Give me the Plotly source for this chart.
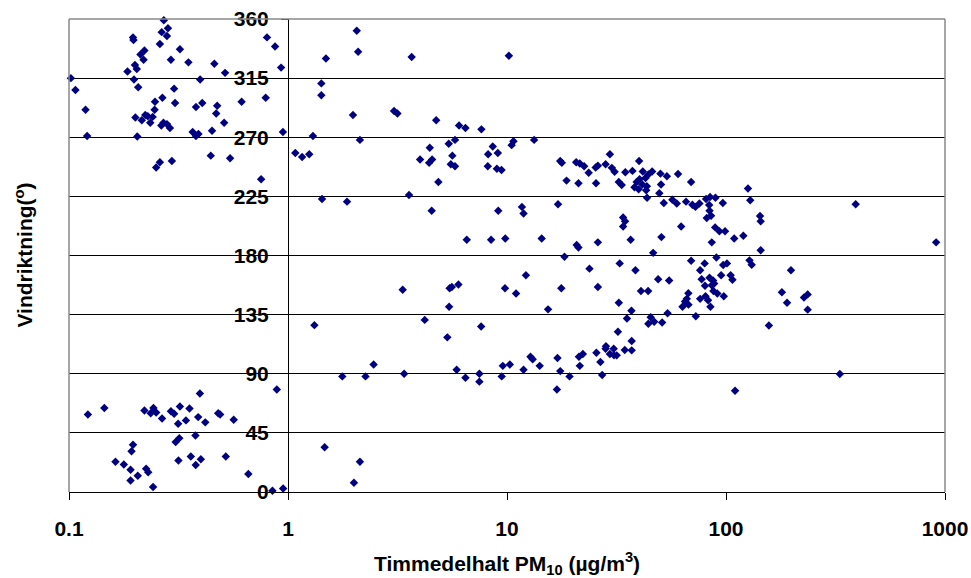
import plotly.graph_objects as go

# PM10 hourly concentration (µg/m3) and wind direction (degrees)
pm10 = [
    0.102, 0.107, 0.119, 0.121, 0.196, 0.197, 0.185, 0.200, 0.204, 0.212, 0.221, 0.219, 0.198, 0.207,
    0.205, 0.201, 0.215, 0.223, 0.229, 0.235, 0.241, 0.246, 0.247, 0.267, 0.260, 0.265, 0.271, 0.283,
    0.280, 0.292, 0.321, 0.302, 0.305, 0.264, 0.270, 0.280, 0.289, 0.250, 0.260, 0.295, 0.351, 0.397,
    0.380, 0.406, 0.367, 0.380, 0.390, 0.444, 0.450, 0.470, 0.475, 0.511, 0.461, 0.516, 0.544, 0.614,
    0.754, 0.791, 0.802, 0.873, 0.930, 0.948, 1.08, 1.16, 1.25, 1.30, 1.42, 1.42, 1.49, 1.43,
    0.122, 0.145, 0.221, 0.236, 0.243, 0.250, 0.266, 0.292, 0.302, 0.321, 0.355, 0.315, 0.342, 0.389,
    0.419, 0.396, 0.480, 0.490, 0.565, 0.378, 0.319, 0.307, 0.196, 0.193, 0.163, 0.178, 0.191, 0.206,
    0.191, 0.225, 0.230, 0.242, 0.316, 0.360, 0.379, 0.400, 0.520, 0.659, 0.849, 0.950, 0.889, 1.32,
    1.47, 2.00, 2.13,
    2.06, 2.09, 3.67, 10.2, 1.98, 3.05, 3.16, 4.75, 2.13, 1.86, 3.57, 4.53, 4.01, 4.44, 4.41, 4.55,
    4.86, 5.42, 5.63, 5.79, 5.54, 5.79, 6.04, 6.46, 7.64, 8.61, 8.20, 9.08, 8.17, 8.99, 9.44, 10.7,
    10.5, 13.3, 9.12, 11.7, 11.9, 17.1, 6.55, 8.46, 9.82, 14.4, 20.8, 21.2, 26.0, 33.9, 34.6, 33.9,
    36.7, 17.5, 17.8, 18.7, 20.7, 21.5, 22.5, 21.2, 23.6, 25.4, 26.0, 25.5, 28.2, 30.1, 31.0, 29.5,
    34.7, 37.4, 32.4, 33.4, 38.2, 39.1, 40.3, 41.5, 39.9, 43.2, 43.5, 40.1,
    41.7, 42.9, 44.2, 46.0, 43.6, 49.6, 50.5, 50.2, 53.7, 60.4, 69.3, 52.0, 56.9, 59.6, 65.7, 70.2,
    72.5, 75.6, 81.1, 84.6, 89.5, 83.8, 84.1, 81.7, 85.5, 96.7, 126, 129, 143, 144, 62.4, 50.7,
    89.2, 93.3, 99.0, 109, 120, 86.1, 391, 911,
    46.5, 38.6, 69.3, 79.9, 90.4, 76.2, 97.1, 101, 128, 131, 144, 198, 49.0, 55.0, 77.4, 80.2,
    84.1, 87.3, 88.3, 86.1, 95.0, 105, 107, 40.9, 44.1, 67.3, 66.2, 65.0, 63.3, 67.4, 76.2, 80.6,
    82.8, 87.6, 91.3, 97.7, 84.9, 72.8, 54.1, 45.3, 44.2, 47.0, 51.1, 37.0, 37.1, 37.1, 180, 190,
    227, 236, 236, 157, 331, 110,
    1.77, 2.26, 2.46, 3.34, 3.39, 4.21, 5.34, 5.44, 5.47, 5.60, 6.00, 5.89, 6.46, 7.48, 7.48, 7.62,
    9.46, 9.57, 10.3, 9.79, 11.0, 12.2, 11.9, 12.8, 13.1, 14.1, 15.4, 16.9, 17.0, 17.5, 17.7, 18.3,
    19.3, 21.5, 21.3, 22.2, 23.8, 25.6, 26.0, 26.7, 27.2, 28.2, 28.3, 29.5, 30.7, 30.8, 31.7, 32.1,
    32.4, 32.7, 34.5, 35.3,
]

wind_dir = [
    315, 306, 291, 271, 346, 344, 320, 325, 322, 333, 336, 329, 314, 308,
    270.5, 285, 283, 287, 286, 281, 285.5, 291, 297, 300, 341, 350, 359, 353,
    347, 329, 337, 307, 296, 279, 281, 280, 277, 247, 251, 252, 327, 314,
    293, 296, 274, 271, 272.5, 256, 275, 288, 294, 281, 326, 319, 254, 297,
    238, 300, 346, 339, 323, 274, 258, 255, 257, 271, 311, 302, 330, 223,
    59, 64, 62, 60, 64, 60.5, 56, 61.5, 59.5, 65, 63.5, 52, 54.5, 57,
    53, 75, 60, 59, 55, 43, 41, 38, 36, 31, 23, 21, 17, 12.4,
    8.8, 17.7, 15, 3.8, 24, 27, 20.6, 25, 27, 13.7, 1, 2.7, 78, 127,
    34, 7, 23,
    351, 335, 331, 332, 287, 290, 288, 283, 268, 221, 226, 214, 253, 262, 250.5, 253,
    236, 265, 256, 268, 249.5, 248, 279, 277, 276, 263, 257, 258, 248, 246, 245, 267,
    264, 268, 214, 217, 212, 219, 192, 192, 193, 193, 188, 186, 190, 209, 206, 202,
    192, 252, 250.5, 237, 251, 250, 248, 235, 243, 247, 248.4, 235, 249.4, 246.7, 243.8, 257,
    243.3, 244.4, 236, 233.7, 232, 236, 238, 234, 230.5, 229.6, 232.7, 252,
    244, 239, 241.6, 244, 224, 227.3, 234, 242.3, 240.3, 242, 236, 220, 222.5, 219.5, 221, 218.7,
    217, 219.5, 223, 224.6, 224, 218.5, 214, 208.6, 210.3, 220, 231, 222, 210, 206, 202, 194,
    201.4, 198.4, 198.4, 193, 195, 190, 219, 190,
    182, 168.7, 176, 174, 178.4, 168.7, 172.8, 174, 176.3, 173, 184, 168.7, 162, 161, 162, 157,
    163, 161, 158.6, 157.4, 165, 165, 161.6, 153, 153, 151.3, 147, 145, 141, 142.6, 147, 149,
    146, 153, 151, 149, 141, 133.7, 136, 133, 128, 129.6, 129, 138, 115, 107.8, 152, 144,
    148, 150.4, 138.8, 126.8, 89.8, 77,
    88, 88, 97, 154, 90, 131, 117.7, 141, 155, 156, 158, 93, 87, 90, 84, 126,
    88, 96, 97, 155, 151, 165, 93, 103, 101, 96, 139, 78, 102, 92, 155, 179,
    88, 96, 103, 105, 170, 106, 156, 99, 89, 109, 111, 105, 109, 104, 104, 122,
    144, 174, 108, 132,
]

x_tick_vals = [0.1, 1, 10, 100, 1000]
x_tick_text = ["0.1", "1", "10", "100", "1000"]
y_tick_vals = [0, 45, 90, 135, 180, 225, 270, 315, 360]
y_tick_text = ["0", "45", "90", "135", "180", "225", "270", "315", "360"]

FONT = "Liberation Sans, Arial, sans-serif"
TICK_SIZE = 21
TITLE_SIZE = 21

fig = go.Figure(
    go.Scatter(
        x=pm10, y=wind_dir, mode="markers", showlegend=False, cliponaxis=False,
        marker=dict(symbol="diamond", size=6.5, color="#000080", line=dict(width=0)),
    )
)

fig.update_layout(
    template="none",
    width=971, height=578,
    margin=dict(l=69, r=26, t=19, b=86, autoexpand=False),
    paper_bgcolor="white", plot_bgcolor="white",
    font=dict(family=FONT, size=TICK_SIZE, color="black"),
    shapes=[
        dict(type="line", xref="paper", yref="paper", x0=0, x1=0, y0=0, y1=1,
             line=dict(color="#888888", width=1.5)),
        dict(type="line", xref="paper", yref="paper", x0=0, x1=1, y0=1, y1=1,
             line=dict(color="#888888", width=1.5)),
        dict(type="line", xref="paper", yref="paper", x0=1, x1=1, y0=0, y1=1,
             line=dict(color="#888888", width=1.5)),
    ],
    annotations=[
        dict(text="<b>Vindriktning(<sup>o</sup>)</b>", xref="paper", yref="paper",
             x=-0.0525, y=0.5, xanchor="center", yanchor="middle", textangle=-90,
             showarrow=False, font=dict(family=FONT, size=TITLE_SIZE, color="black")),
        dict(text="<b>Timmedelhalt PM<sub>10</sub> (µg/m<sup>3</sup>)</b>", xref="paper", yref="paper",
             x=0.5, y=-0.151, xanchor="center", yanchor="middle",
             showarrow=False, font=dict(family=FONT, size=TITLE_SIZE, color="black")),
    ],
)

fig.update_xaxes(
    type="log", range=[-1, 3], tickvals=x_tick_vals, ticktext=x_tick_text,
    ticks="outside", ticklen=7, tickcolor="black", tickwidth=1,
    showline=True, linecolor="black", linewidth=1, automargin=False,
    showgrid=False, zeroline=False, ticklabelstandoff=11,
    tickfont=dict(family=FONT, size=TICK_SIZE, color="black", weight="bold"),
)

fig.update_yaxes(
    range=[0, 360], tickvals=y_tick_vals, ticktext=y_tick_text,
    anchor="free", position=0.25, automargin=False,
    ticks="outside", ticklen=7, tickcolor="black", tickwidth=1,
    showline=True, linecolor="black", linewidth=1,
    showgrid=True, gridcolor="black", gridwidth=1, zeroline=False, ticklabelstandoff=8,
    tickfont=dict(family=FONT, size=TICK_SIZE, color="black", weight="bold"),
)

fig.write_html("out.html")
